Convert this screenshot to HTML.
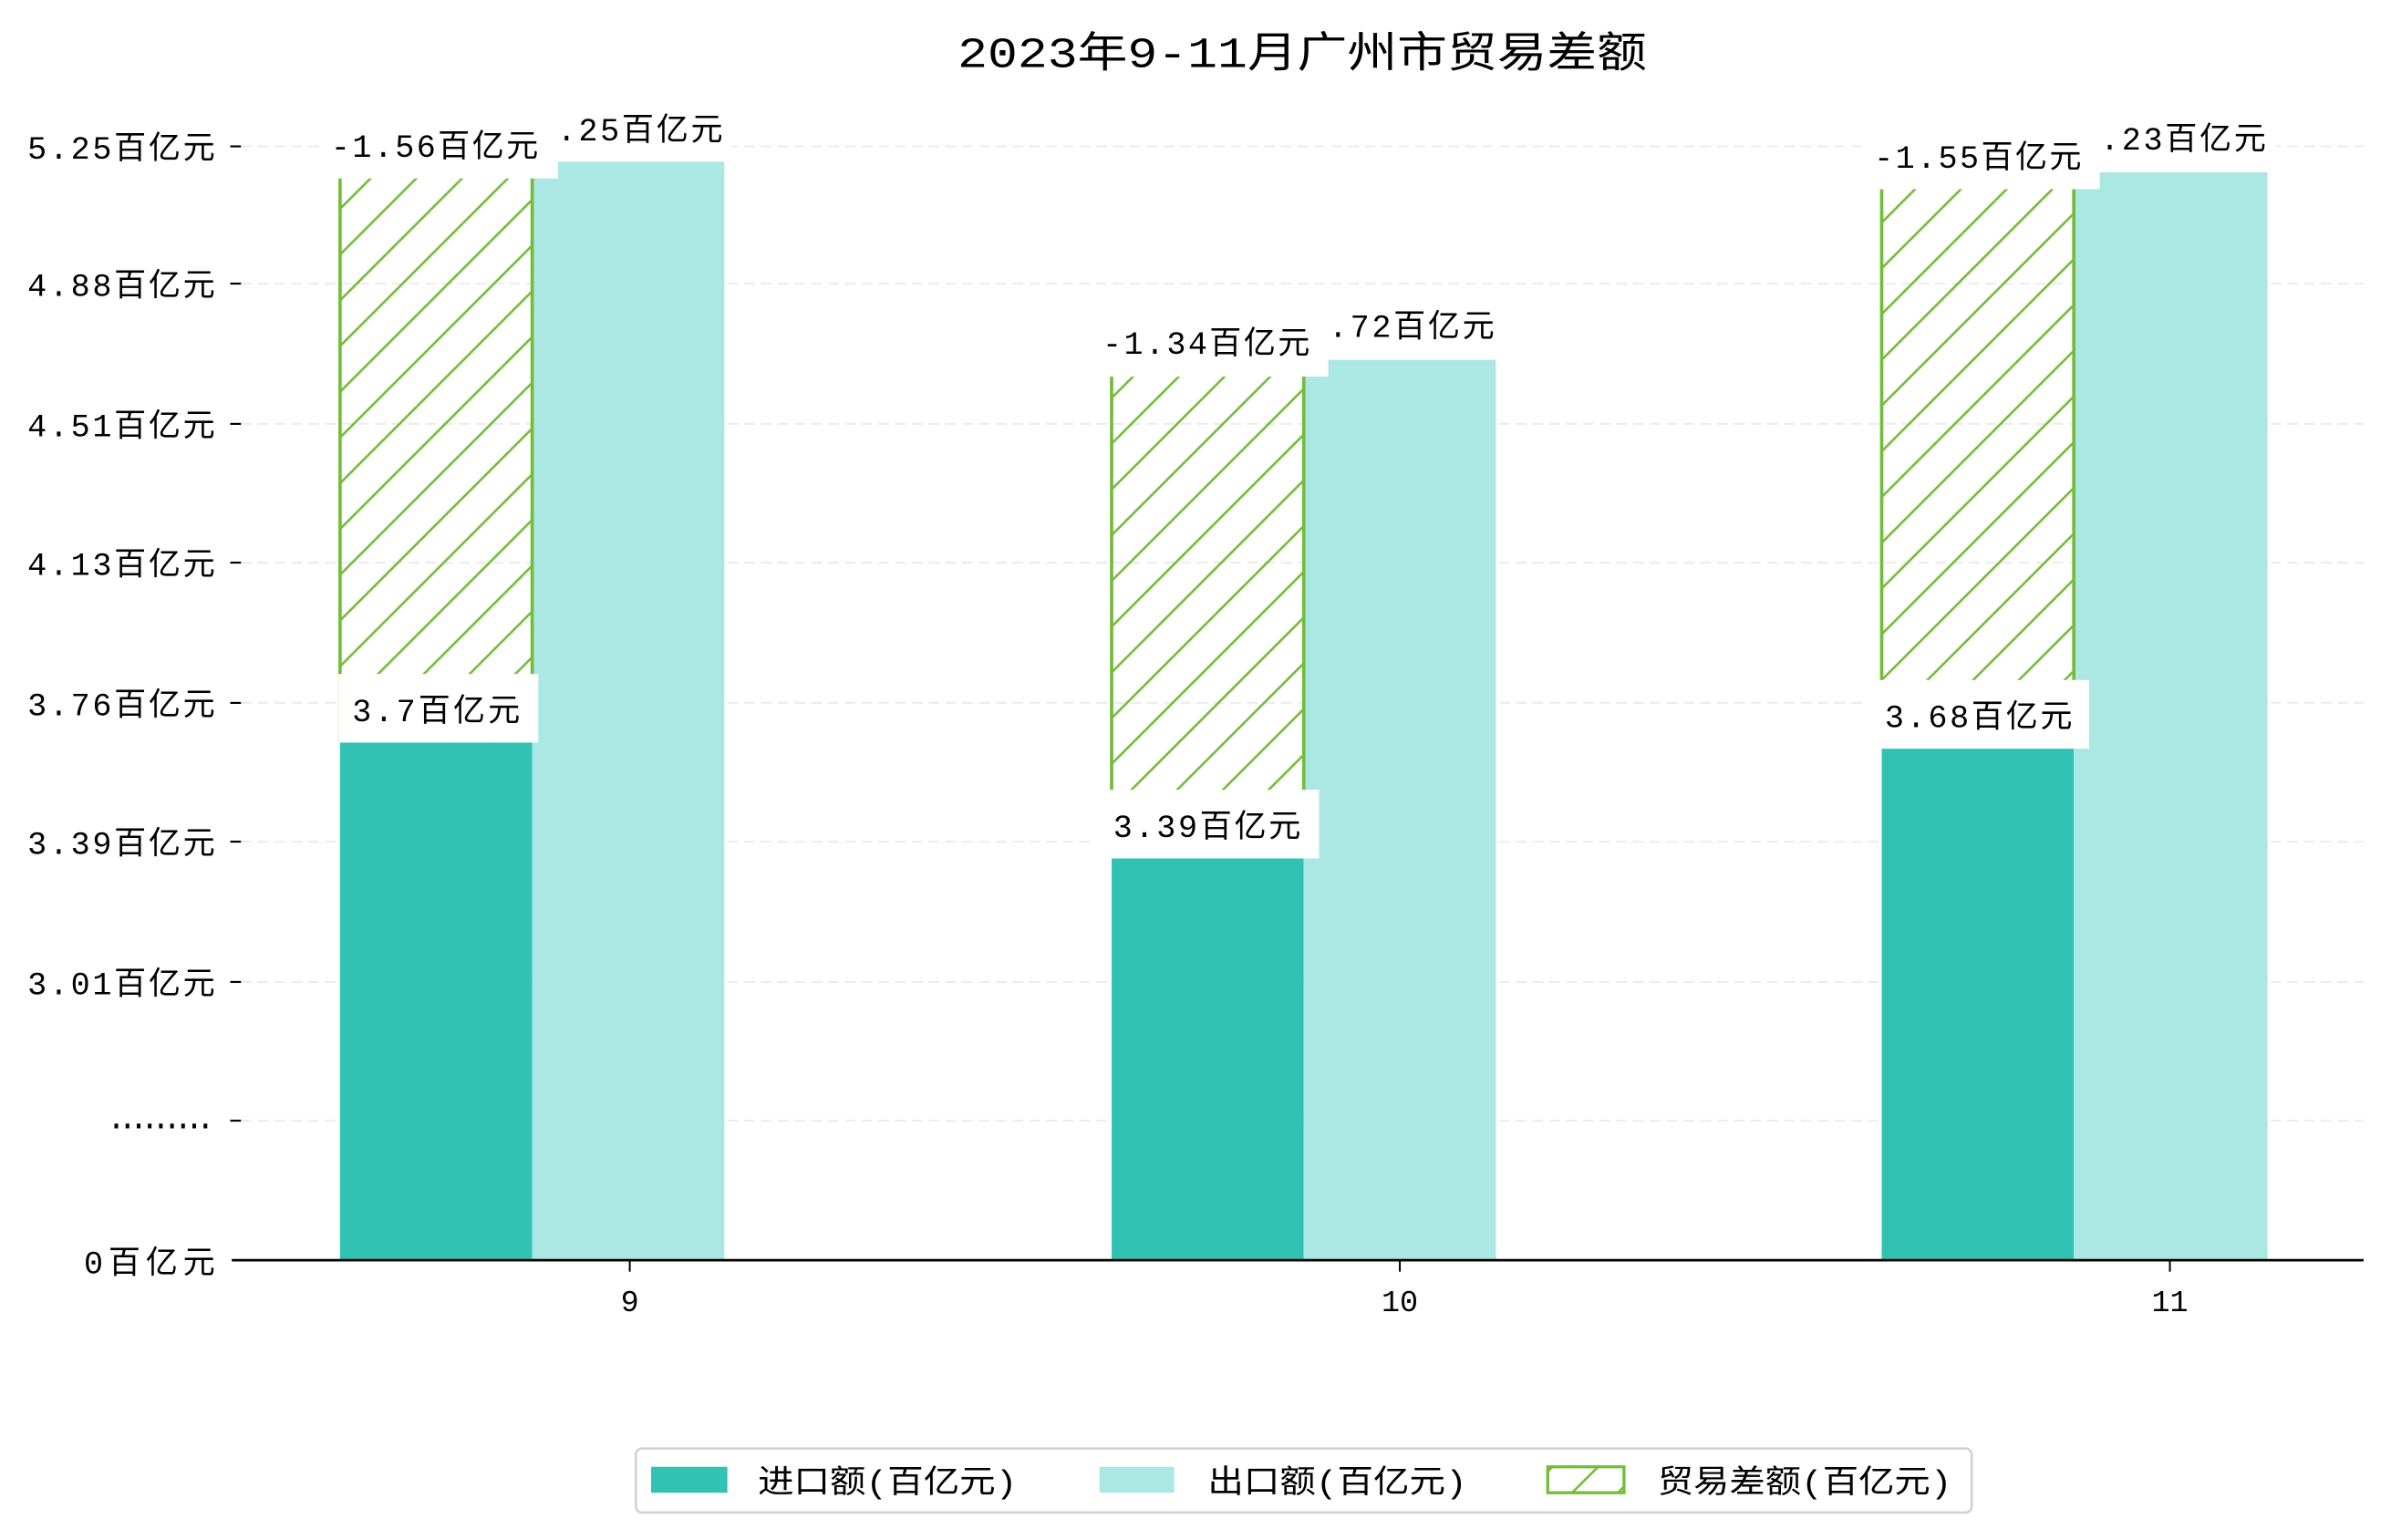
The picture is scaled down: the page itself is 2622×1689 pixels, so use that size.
<!DOCTYPE html>
<html><head><meta charset="utf-8"><style>
html,body{margin:0;padding:0;background:#fff;}
svg{display:block;}
text{font-family:"Liberation Mono","Noto Sans CJK SC",monospace;fill:#000;}
</style></head><body>
<svg width="2622" height="1689" viewBox="0 0 1568 1010" preserveAspectRatio="none" xmlns="http://www.w3.org/2000/svg">
<defs>
<pattern id="h" patternUnits="userSpaceOnUse" width="30" height="30">
<path d="M-5,5 L5,-5 M0,30 L30,0 M25,35 L35,25" stroke="#76bc3c" stroke-width="1.6"/>
</pattern>
</defs>
<rect width="1568" height="1010" fill="#fff"/>
<text x="854" y="44" font-size="28" text-anchor="middle" textLength="452" lengthAdjust="spacingAndGlyphs">2023年9-11月广州市贸易差额</text>
<g stroke="#ececec" stroke-width="1.2" stroke-dasharray="7,4">
<line x1="158" y1="96" x2="1550" y2="96"/><line x1="158" y1="186" x2="1550" y2="186"/>
<line x1="158" y1="278" x2="1550" y2="278"/><line x1="158" y1="369" x2="1550" y2="369"/>
<line x1="158" y1="461" x2="1550" y2="461"/><line x1="158" y1="552" x2="1550" y2="552"/>
<line x1="158" y1="644" x2="1550" y2="644"/><line x1="158" y1="735" x2="1550" y2="735"/>
</g>
<g stroke="#000" stroke-width="1.3">
<line x1="151" y1="96" x2="158" y2="96"/><line x1="151" y1="186" x2="158" y2="186"/>
<line x1="151" y1="278" x2="158" y2="278"/><line x1="151" y1="369" x2="158" y2="369"/>
<line x1="151" y1="461" x2="158" y2="461"/><line x1="151" y1="552" x2="158" y2="552"/>
<line x1="151" y1="644" x2="158" y2="644"/><line x1="151" y1="735" x2="158" y2="735"/>
</g>
<g font-size="21" lengthAdjust="spacingAndGlyphs">
<text x="18" y="104" textLength="123">5.25百亿元</text><text x="18" y="194" textLength="123">4.88百亿元</text>
<text x="18" y="286" textLength="123">4.51百亿元</text><text x="18" y="377" textLength="123">4.13百亿元</text>
<text x="18" y="469" textLength="123">3.76百亿元</text><text x="18" y="560" textLength="123">3.39百亿元</text>
<text x="18" y="652" textLength="123">3.01百亿元</text><text x="70" y="740" textLength="71">.........</text>
<text x="55" y="835" textLength="86">0百亿元</text>
</g>
<g>
<rect x="223" y="487" width="126" height="339" fill="#31c2b3"/>
<rect x="349" y="106" width="126" height="720" fill="#abe8e3"/>
<rect x="729" y="563" width="126" height="263" fill="#31c2b3"/>
<rect x="855" y="236" width="126" height="590" fill="#abe8e3"/>
<rect x="1234" y="491" width="126" height="335" fill="#31c2b3"/>
<rect x="1360" y="113" width="127" height="713" fill="#abe8e3"/>
</g>
<g>
<rect x="223" y="117" width="126" height="370" fill="url(#h)"/>
<rect x="729" y="247" width="126" height="316" fill="url(#h)"/>
<rect x="1234" y="124" width="126" height="367" fill="url(#h)"/>
</g>
<g stroke="#76bc3c" stroke-width="2.2">
<line x1="223" y1="117" x2="223" y2="487"/><line x1="349" y1="117" x2="349" y2="487"/>
<line x1="729" y1="247" x2="729" y2="563"/><line x1="855" y1="247" x2="855" y2="563"/>
<line x1="1234" y1="124" x2="1234" y2="491"/><line x1="1360" y1="124" x2="1360" y2="491"/>
</g>
<g font-size="21" lengthAdjust="spacingAndGlyphs">
<rect x="360" y="66" width="120" height="40" fill="#fff"/><text x="351" y="92" textLength="123">5.25百亿元</text>
<rect x="210" y="75" width="156" height="42" fill="#fff"/><text x="217" y="103" textLength="136">-1.56百亿元</text>
<rect x="222" y="442" width="131" height="45" fill="#fff"/><text x="231" y="473" textLength="110">3.7百亿元</text>
<rect x="866" y="196" width="120" height="40" fill="#fff"/><text x="857" y="221" textLength="123">4.72百亿元</text>
<rect x="716" y="204" width="155" height="43" fill="#fff"/><text x="723" y="232" textLength="136">-1.34百亿元</text>
<rect x="718" y="518" width="147" height="45" fill="#fff"/><text x="730" y="549" textLength="123">3.39百亿元</text>
<rect x="1372" y="72" width="120" height="41" fill="#fff"/><text x="1363" y="98" textLength="123">5.23百亿元</text>
<rect x="1221" y="82" width="156" height="42" fill="#fff"/><text x="1229" y="110" textLength="136">-1.55百亿元</text>
<rect x="1224" y="446" width="146" height="45" fill="#fff"/><text x="1236" y="477" textLength="123">3.68百亿元</text>
</g>
<line x1="152" y1="826.5" x2="1550" y2="826.5" stroke="#000" stroke-width="1.6"/>
<g stroke="#000" stroke-width="1.2">
<line x1="413" y1="827" x2="413" y2="834"/><line x1="918" y1="827" x2="918" y2="834"/><line x1="1423" y1="827" x2="1423" y2="834"/>
</g>
<g font-size="20" text-anchor="middle">
<text x="413" y="860">9</text><text x="918" y="860">10</text><text x="1423" y="860">11</text>
</g>
<rect x="417" y="950" width="876" height="42" rx="4" fill="#fff" stroke="#d0d0d0" stroke-width="1.5"/>
<rect x="427" y="962" width="50" height="17" fill="#31c2b3"/>
<text x="497" y="979" font-size="21" textLength="170" lengthAdjust="spacingAndGlyphs">进口额(百亿元)</text>
<rect x="721" y="962" width="49" height="17" fill="#abe8e3"/>
<text x="792" y="979" font-size="21" textLength="170" lengthAdjust="spacingAndGlyphs">出口额(百亿元)</text>
<rect x="1015" y="962" width="50" height="17" fill="url(#h)" stroke="#76bc3c" stroke-width="2"/>
<text x="1087" y="979" font-size="21" textLength="193" lengthAdjust="spacingAndGlyphs">贸易差额(百亿元)</text>
</svg>
</body></html>
